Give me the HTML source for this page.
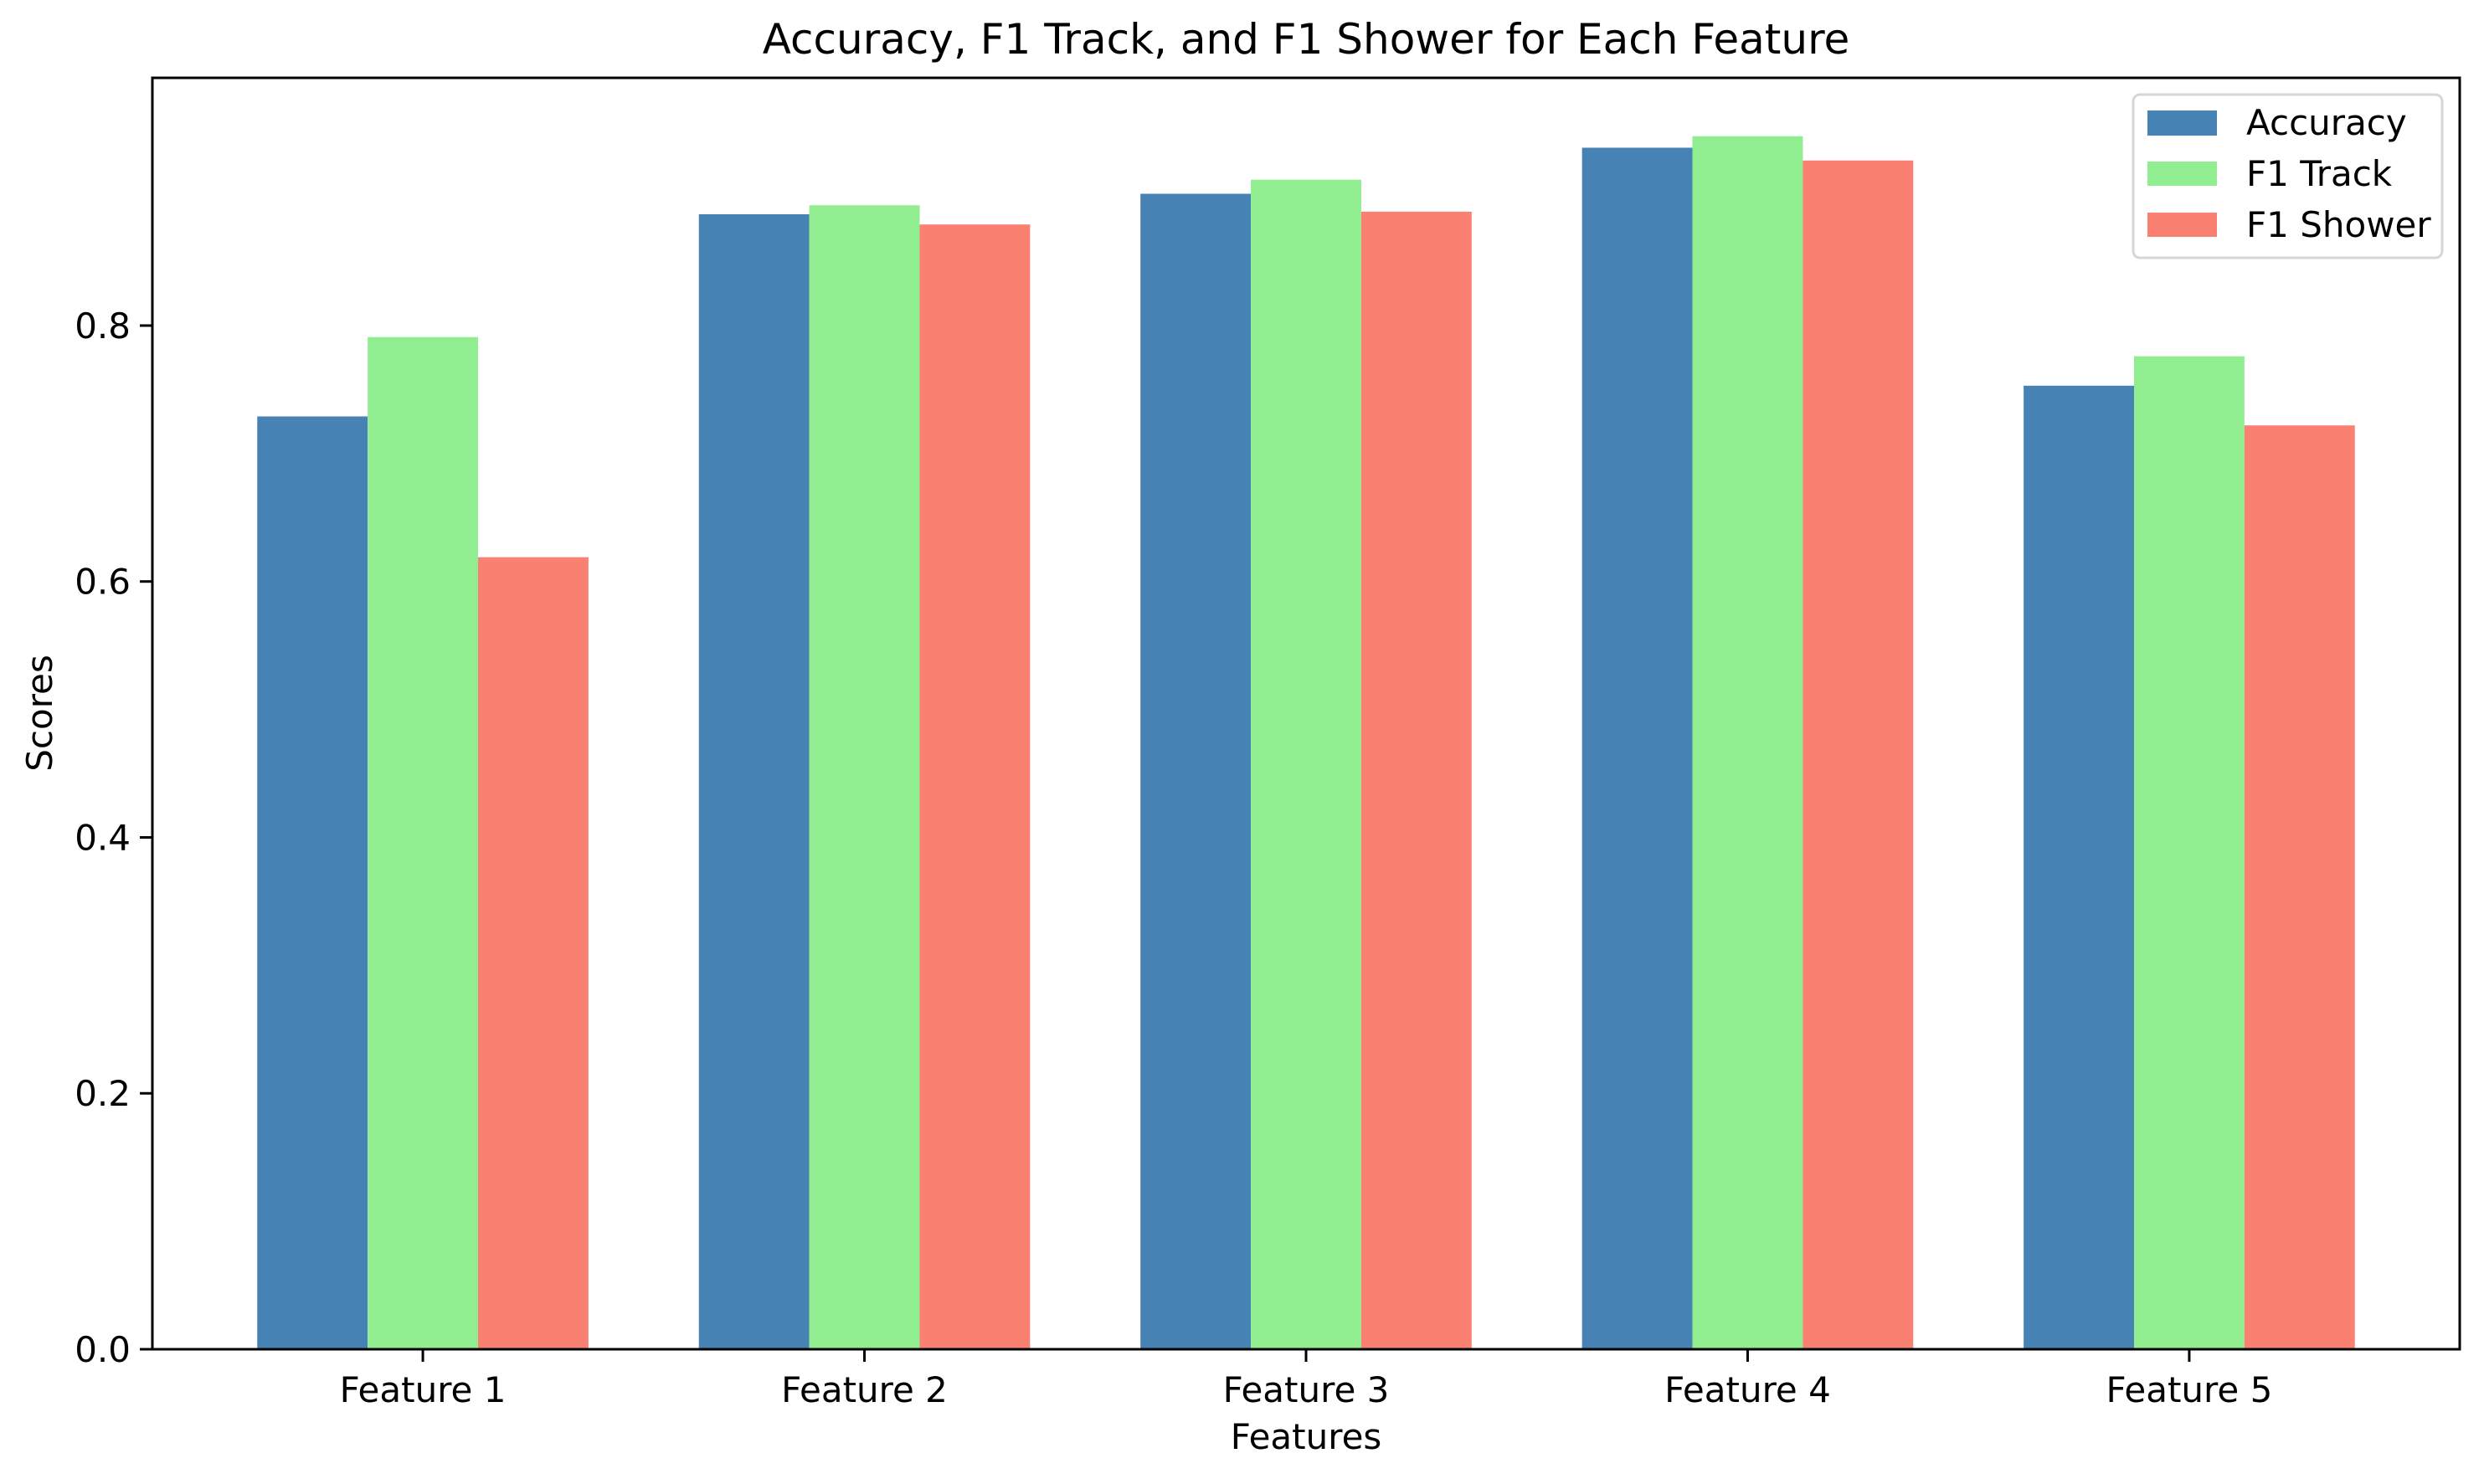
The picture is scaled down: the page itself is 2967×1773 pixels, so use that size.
<!DOCTYPE html>
<html><head><meta charset="utf-8"><style>
body{margin:0;background:#fff}
svg text{font-family:"DejaVu Sans","Liberation Sans",sans-serif;fill:#000}
</style></head><body>
<svg id="chart" width="2967" height="1768" xmlns="http://www.w3.org/2000/svg">
<rect width="2967" height="1768" fill="#fff"/>
<text x="1560" y="64" font-size="50" text-anchor="middle">Accuracy, F1 Track, and F1 Shower for Each Feature</text>
<g id="bars"></g>
<g id="axes"></g>
<text x="1560" y="1731" font-size="42" text-anchor="middle">Features</text>
<text x="62" y="852" font-size="42" text-anchor="middle" transform="rotate(-90 62 852)">Scores</text>
<g>
<rect x="2548" y="113" width="369" height="195" rx="8" fill="#fff" stroke="#d6d6d6" stroke-width="3"/>
<rect x="2565" y="132" width="83" height="30" fill="#4682b4"/>
<text x="2683" y="161" font-size="42">Accuracy</text>
<rect x="2565" y="193" width="83" height="29" fill="#90ee90"/>
<text x="2683" y="222" font-size="42">F1 Track</text>
<rect x="2565" y="254" width="83" height="29" fill="#fa8072"/>
<text x="2683" y="283" font-size="42">F1 Shower</text>
</g>
</svg>
<script>
const categories = ["Feature 1","Feature 2","Feature 3","Feature 4","Feature 5"];
const accuracy = [0.729,0.887,0.903,0.939,0.753];
const f1Track = [0.791,0.894,0.914,0.948,0.776];
const f1Shower = [0.619,0.879,0.889,0.929,0.722];
const yTicks = [0.0,0.2,0.4,0.6,0.8];
const yTickLabels = ["0.0","0.2","0.4","0.6","0.8"];

const L=182,R=2938,T=93,B=1612;
const xmin=-0.6125,xmax=4.6125,ymin=0,ymax=0.9936;
const sx=v=>L+(v-xmin)/(xmax-xmin)*(R-L);
const sy=v=>B-(v-ymin)/(ymax-ymin)*(B-T);
const NS="http://www.w3.org/2000/svg";
const bars=document.getElementById('bars'), axes=document.getElementById('axes');
const series=[[accuracy,"#4682b4","accuracy"],[f1Track,"#90ee90","f1-track"],[f1Shower,"#fa8072","f1-shower"]];
const w=0.25;
series.forEach((s,si)=>{
  s[0].forEach((v,i)=>{
    const r=document.createElementNS(NS,'rect');
    const x0=sx(i+(si-1)*w-w/2), x1=sx(i+(si-1)*w+w/2);
    r.setAttribute('x',x0);r.setAttribute('width',x1-x0);
    r.setAttribute('y',sy(v));r.setAttribute('height',sy(0)-sy(v));
    r.setAttribute('fill',s[1]);
    
    
    bars.appendChild(r);
  });
});
const frame=document.createElementNS(NS,'rect');
frame.setAttribute('x',L);frame.setAttribute('y',T);frame.setAttribute('width',R-L);frame.setAttribute('height',B-T);
frame.setAttribute('fill','none');frame.setAttribute('stroke','#000');frame.setAttribute('stroke-width','3');


axes.appendChild(frame);
yTicks.forEach((v,i)=>{
  const y=sy(v);
  const ln=document.createElementNS(NS,'line');
  ln.setAttribute('x1',L-15);ln.setAttribute('x2',L);ln.setAttribute('y1',y);ln.setAttribute('y2',y);
  ln.setAttribute('stroke','#000');ln.setAttribute('stroke-width','3');
  
  
  axes.appendChild(ln);
  const t=document.createElementNS(NS,'text');
  t.setAttribute('x',L-26);t.setAttribute('y',y+15);t.setAttribute('font-size','42');t.setAttribute('text-anchor','end');
  t.textContent=yTickLabels[i];
  
  
  axes.appendChild(t);
});
categories.forEach((c,i)=>{
  const x=sx(i);
  const ln=document.createElementNS(NS,'line');
  ln.setAttribute('x1',x);ln.setAttribute('x2',x);ln.setAttribute('y1',B);ln.setAttribute('y2',B+15);
  ln.setAttribute('stroke','#000');ln.setAttribute('stroke-width','3');
  
  
  axes.appendChild(ln);
  const t=document.createElementNS(NS,'text');
  t.setAttribute('x',x);t.setAttribute('y',B+63);t.setAttribute('font-size','42');t.setAttribute('text-anchor','middle');
  t.textContent=c;
  
  
  axes.appendChild(t);
});
</script>
</body></html>
